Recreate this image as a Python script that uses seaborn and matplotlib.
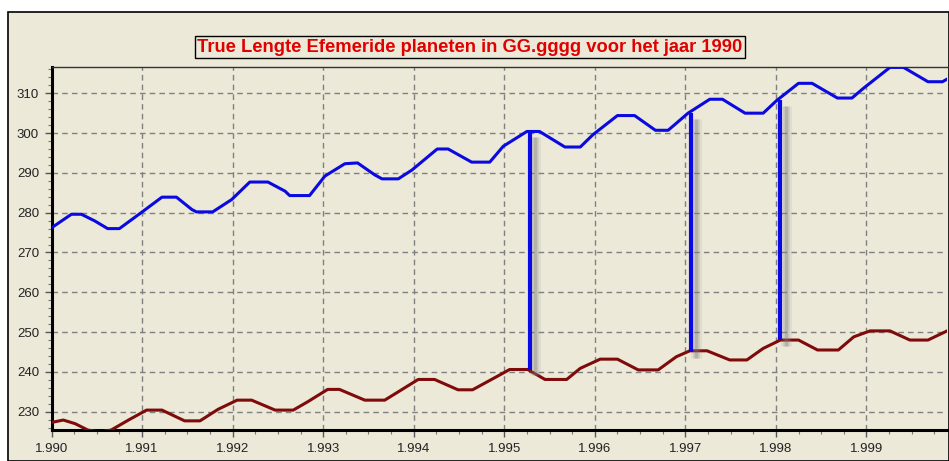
import matplotlib
matplotlib.use("Agg")
import matplotlib.pyplot as plt
import matplotlib.patheffects as pe
from matplotlib.patches import Rectangle
from matplotlib.ticker import MultipleLocator, FormatStrFormatter
import seaborn as sns
import pandas as pd

# Ephemeris readings (x = year / 1000, y = longitude in degrees)
blue_x = [1.99000, 1.99022, 1.99033, 1.99048, 1.99062, 1.99075, 1.99099, 1.99122, 1.99138,
          1.99155, 1.99160, 1.99178, 1.99199, 1.99219, 1.99239, 1.99258, 1.99263, 1.99285,
          1.99302, 1.99324, 1.99338, 1.99357, 1.99365, 1.99383, 1.99398, 1.99426, 1.99438,
          1.99464, 1.99484, 1.99499, 1.99525, 1.99539, 1.99567, 1.99584, 1.99598, 1.99625,
          1.99644, 1.99667, 1.99681, 1.99703, 1.99727, 1.99741, 1.99766, 1.99786, 1.99801,
          1.99825, 1.99840, 1.99868, 1.99884, 1.99897, 1.99926, 1.99941, 1.99968, 1.99984,
          1.99991]
blue_y = [276.2, 279.6, 279.6, 277.9, 276.0, 276.0, 280.0, 283.9, 283.9,
          280.8, 280.2, 280.2, 283.3, 287.7, 287.7, 285.4, 284.3, 284.3,
          289.2, 292.3, 292.5, 289.5, 288.5, 288.5, 290.7, 296.0, 296.0,
          292.7, 292.7, 296.7, 300.4, 300.4, 296.5, 296.5, 299.6, 304.4,
          304.4, 300.7, 300.7, 305.0, 308.5, 308.5, 305.0, 305.0, 308.2,
          312.5, 312.5, 308.8, 308.8, 311.3, 316.5, 316.5, 312.9, 312.9,
          313.8]

red_x = [1.99000, 1.99013, 1.99026, 1.99040, 1.99053, 1.99066, 1.99085, 1.99105, 1.99122,
         1.99147, 1.99164, 1.99184, 1.99205, 1.99221, 1.99247, 1.99267, 1.99283, 1.99305,
         1.99318, 1.99346, 1.99368, 1.99383, 1.99405, 1.99423, 1.99449, 1.99465, 1.99490,
         1.99506, 1.99526, 1.99545, 1.99569, 1.99584, 1.99606, 1.99625, 1.99648, 1.99670,
         1.99690, 1.99705, 1.99724, 1.99749, 1.99768, 1.99786, 1.99805, 1.99825, 1.99846,
         1.99869, 1.99886, 1.99904, 1.99926, 1.99948, 1.99968, 1.99991]
red_y = [227.3, 227.9, 227.0, 225.4, 224.9, 225.4, 227.9, 230.4, 230.4,
         227.7, 227.7, 230.6, 232.9, 232.9, 230.4, 230.4, 232.5, 235.6,
         235.6, 232.9, 232.9, 235.0, 238.1, 238.1, 235.5, 235.5, 238.6,
         240.6, 240.6, 238.1, 238.1, 240.9, 243.2, 243.2, 240.5, 240.5,
         243.8, 245.3, 245.3, 243.0, 243.0, 245.9, 248.0, 248.0, 245.5,
         245.5, 248.8, 250.3, 250.3, 248.0, 248.0, 250.5]

# Vertical connectors between the two planets
mark_x = [1.99528, 1.99706, 1.99805]
mark_top = [300.4, 305.0, 308.3]
mark_bottom = [240.5, 244.9, 248.0]

TITLE = "True Lengte Efemeride planeten in GG.gggg voor het jaar 1990"
BG = "#ECE9D8"

sns.set_style("ticks")
plt.rcParams["font.family"] = ["Liberation Sans", "DejaVu Sans"]

fig = plt.figure(figsize=(9.49, 4.61), dpi=100, facecolor="white")
frame = Rectangle((8 / 949, 0.0), 1 - 8 / 949 - 0.5 / 949, 1 - 12 / 461,
                  transform=fig.transFigure, facecolor=BG, edgecolor="black",
                  linewidth=1.2, zorder=-10)
fig.patches.append(frame)

ax = fig.add_axes([51.5 / 949, 1 - 430 / 461, (947 - 51.5) / 949, (430 - 67) / 461])
ax.set_zorder(1)
ax.set_facecolor(BG)

blue_df = pd.DataFrame({"x": blue_x, "y": blue_y})
red_df = pd.DataFrame({"x": red_x, "y": red_y})

sns.lineplot(data=blue_df, x="x", y="y", ax=ax, color="#0A0AE0", linewidth=2.2,
             estimator=None, sort=False, zorder=3)
sns.lineplot(data=red_df, x="x", y="y", ax=ax, color="#7E0A0A", linewidth=2.2,
             estimator=None, sort=False, zorder=3)

# soft drop shadow, built from a few stacked translucent strokes
shadow = [pe.SimpleLineShadow(offset=(4, -4), shadow_color="#8a8a8a", alpha=0.12, linewidth=8),
          pe.SimpleLineShadow(offset=(4, -4), shadow_color="#8a8a8a", alpha=0.2, linewidth=5),
          pe.SimpleLineShadow(offset=(4, -4), shadow_color="#7a7a7a", alpha=0.3, linewidth=2.5),
          pe.Normal()]
ax.vlines(mark_x, mark_bottom, mark_top, colors="#0A0AE6", linewidth=3.0, zorder=4,
          path_effects=shadow)

ax.set_xlim(1.990, 1.99989)
ax.set_ylim(225.4, 316.6)
ax.xaxis.set_major_locator(MultipleLocator(0.001))
ax.xaxis.set_minor_locator(MultipleLocator(0.00025))
ax.xaxis.set_major_formatter(FormatStrFormatter("%.3f"))
ax.yaxis.set_major_locator(MultipleLocator(10))
ax.yaxis.set_minor_locator(MultipleLocator(2))
ax.set_xlabel("")
ax.set_ylabel("")

ax.grid(True, which="major", color="#808080", linestyle=(0, (4, 3)), linewidth=1.0)
ax.tick_params(axis="both", which="major", length=5, width=1, color="#555555",
               labelsize=9.5, labelcolor="#222222", pad=4)
ax.tick_params(axis="both", which="minor", length=3, width=0.8, color="#777777")

for side in ["left", "bottom"]:
    ax.spines[side].set_linewidth(2.2)
    ax.spines[side].set_color("black")
ax.spines["top"].set_linewidth(1.0)
ax.spines["top"].set_color("#333333")
ax.spines["right"].set_visible(False)

fig.text(470 / 949, 1 - 47 / 461, TITLE, ha="center", va="center",
         fontsize=13.2, fontweight="bold", color="#E00000",
         bbox=dict(boxstyle="square,pad=0.12", facecolor=BG, edgecolor="black",
                   linewidth=1.0))

fig.savefig("out.png", dpi=100, facecolor="white")
